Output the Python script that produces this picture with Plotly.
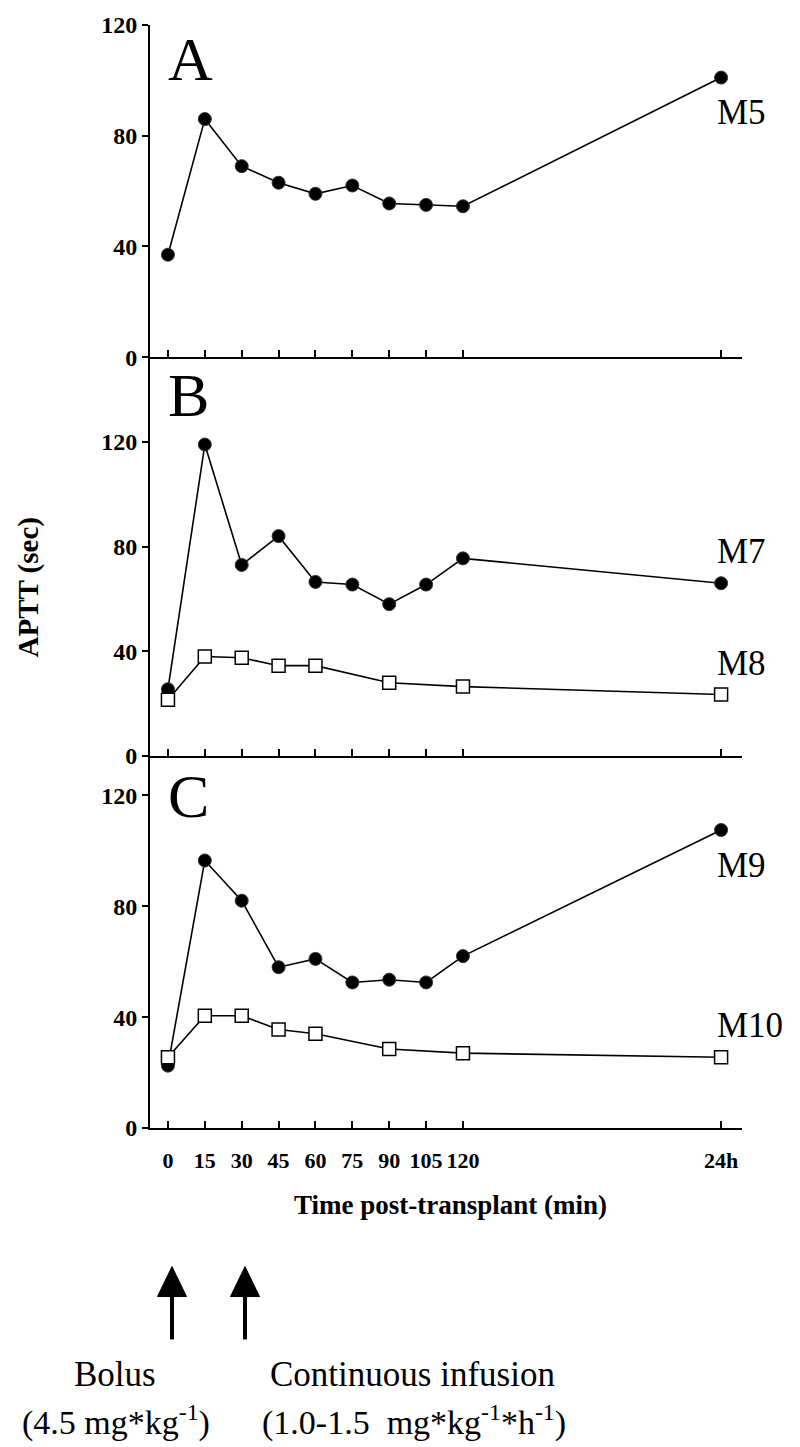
import plotly.graph_objects as go

# ---------------- data ----------------
time_pos = [0, 15, 30, 45, 60, 75, 90, 105, 120, 225]   # 24h drawn at position 225
tick_vals = [0, 15, 30, 45, 60, 75, 90, 105, 120, 225]
tick_text = ["0", "15", "30", "45", "60", "75", "90", "105", "120", "24h"]

m5 = [37, 86, 69, 63, 59, 62, 55.5, 55, 54.5, 101]
m7 = [25.5, 119, 73, 84, 66.5, 65.5, 58, 65.5, 75.5, 66]
m8 = [21.5, 38, 37.5, 34.5, 34.5, None, 28, None, 26.5, 23.5]
m9 = [22.5, 96.5, 82, 58, 61, 52.5, 53.5, 52.5, 62, 107.5]
m10 = [25.5, 40.5, 40.5, 35.5, 34, None, 28.5, None, 27, 25.5]

y_ticks = [0, 40, 80, 120]

# ---------------- figure ----------------
W, H = 800, 1447
L, R, T, B = 150, 58, 22, 319
PW, PH = W - L - R, H - T - B

def px(x):
    return (x - L) / PW

def py(y):
    return (H - B - y) / PH

SERIF = "Liberation Serif, Times New Roman, serif"

fig = go.Figure()

def filled(x, y, xa, ya):
    return go.Scatter(x=x, y=y, xaxis=xa, yaxis=ya, mode="lines+markers",
                      connectgaps=True,
                      line=dict(color="black", width=1.6),
                      marker=dict(symbol="circle", size=13, color="black",
                                  line=dict(color="#333", width=1)),
                      showlegend=False, hoverinfo="skip")

def opensq(x, y, xa, ya):
    return go.Scatter(x=x, y=y, xaxis=xa, yaxis=ya, mode="lines+markers",
                      connectgaps=True,
                      line=dict(color="black", width=1.6),
                      marker=dict(symbol="square", size=13, color="white",
                                  line=dict(color="black", width=1.5)),
                      showlegend=False, hoverinfo="skip")

fig.add_trace(filled(time_pos, m5, "x", "y"))
fig.add_trace(filled(time_pos, m7, "x2", "y2"))
fig.add_trace(opensq(time_pos, m8, "x2", "y2"))
fig.add_trace(filled(time_pos, m9, "x3", "y3"))
fig.add_trace(opensq(time_pos, m10, "x3", "y3"))

xr = [-7.3, 233.5]
y_dom_c = [0, 0.3373]
y_dom_b = [0.3373, 0.6989]
y_dom_a = [0.6989, 1]

xcommon = dict(range=xr, domain=[0, 1], showline=True, linecolor="black",
               linewidth=2, ticks="inside", ticklen=7, tickwidth=1.5,
               tickcolor="black", tickvals=tick_vals, showgrid=False,
               zeroline=False, fixedrange=True)
ycommon = dict(showline=True, linecolor="black", linewidth=2, ticks="outside",
               ticklen=6, tickwidth=1.5, tickcolor="black", tickvals=y_ticks,
               showgrid=False, zeroline=False, fixedrange=True,
               tickfont=dict(family=SERIF, size=24, color="black", weight="bold"))

fig.update_layout(
    width=W, height=H,
    margin=dict(l=L, r=R, t=T, b=B),
    paper_bgcolor="white", plot_bgcolor="white",
    xaxis=dict(**xcommon, anchor="y", showticklabels=False),
    xaxis2=dict(**xcommon, anchor="y2", showticklabels=False),
    xaxis3=dict(**xcommon, anchor="y3", ticktext=tick_text,
                ticklabelstandoff=12,
                tickfont=dict(family=SERIF, size=22, color="black", weight="bold")),
    yaxis=dict(**ycommon, domain=y_dom_a, range=[0, 120], anchor="x"),
    yaxis2=dict(**ycommon, domain=y_dom_b, range=[0, 152.4], anchor="x2"),
    yaxis3=dict(**ycommon, domain=y_dom_c, range=[0, 134.2], anchor="x3"),
)

ann = []
# panel letters
for letter, yc in [("A", 58), ("B", 395), ("C", 797)]:
    ann.append(dict(text=letter, x=px(166), y=py(yc - 2), xref="paper", yref="paper",
                    xanchor="left", yanchor="middle", showarrow=False,
                    font=dict(family=SERIF, size=62, color="black")))
# series labels
for lab, yc in [("M5", 110), ("M7", 550), ("M8", 662), ("M9", 865), ("M10", 1025)]:
    ann.append(dict(text=lab, x=px(715), y=py(yc), xref="paper", yref="paper",
                    xanchor="left", yanchor="middle", showarrow=False,
                    font=dict(family=SERIF, size=35, color="black")))
# axis titles
ann.append(dict(text="APTT (sec)", x=px(28), y=py(586), xref="paper", yref="paper",
                xanchor="center", yanchor="middle", showarrow=False, textangle=-90,
                font=dict(family=SERIF, size=29, color="black", weight="bold")))
ann.append(dict(text="Time post-transplant (min)", x=px(450), y=py(1205),
                xref="paper", yref="paper", xanchor="center", yanchor="middle",
                showarrow=False,
                font=dict(family=SERIF, size=27, color="black", weight="bold")))
# dosing texts
ann.append(dict(text="Bolus", x=px(115), y=py(1375), xref="paper", yref="paper",
                xanchor="center", yanchor="middle", showarrow=False,
                font=dict(family=SERIF, size=35, color="black")))
ann.append(dict(text="(4.5 mg*kg<sup>-1</sup>)", x=px(116), y=py(1421),
                xref="paper", yref="paper", xanchor="center", yanchor="middle",
                showarrow=False, font=dict(family=SERIF, size=34, color="black")))
ann.append(dict(text="Continuous infusion", x=px(412), y=py(1375), xref="paper",
                yref="paper", xanchor="center", yanchor="middle", showarrow=False,
                font=dict(family=SERIF, size=35, color="black")))
ann.append(dict(text="(1.0-1.5  mg*kg<sup>-1</sup>*h<sup>-1</sup>)", x=px(414),
                y=py(1421), xref="paper", yref="paper", xanchor="center",
                yanchor="middle", showarrow=False,
                font=dict(family=SERIF, size=34, color="black")))
fig.update_layout(annotations=ann)

# arrows (head triangle + shaft)
shapes = []
for ax in [172, 245]:
    shapes.append(dict(type="line", xref="paper", yref="paper",
                       x0=px(ax), x1=px(ax), y0=py(1296), y1=py(1340),
                       line=dict(color="black", width=4)))
    shapes.append(dict(type="path", xref="paper", yref="paper",
                       path=f"M {px(ax-14.5)} {py(1297)} L {px(ax+14.5)} {py(1297)} L {px(ax)} {py(1267)} Z",
                       fillcolor="black", line=dict(color="black", width=1)))
fig.update_layout(shapes=shapes)

fig.write_html("out.html", config={"displayModeBar": False},
               post_script="document.body.style.margin='0';document.body.style.overflow='hidden';")
